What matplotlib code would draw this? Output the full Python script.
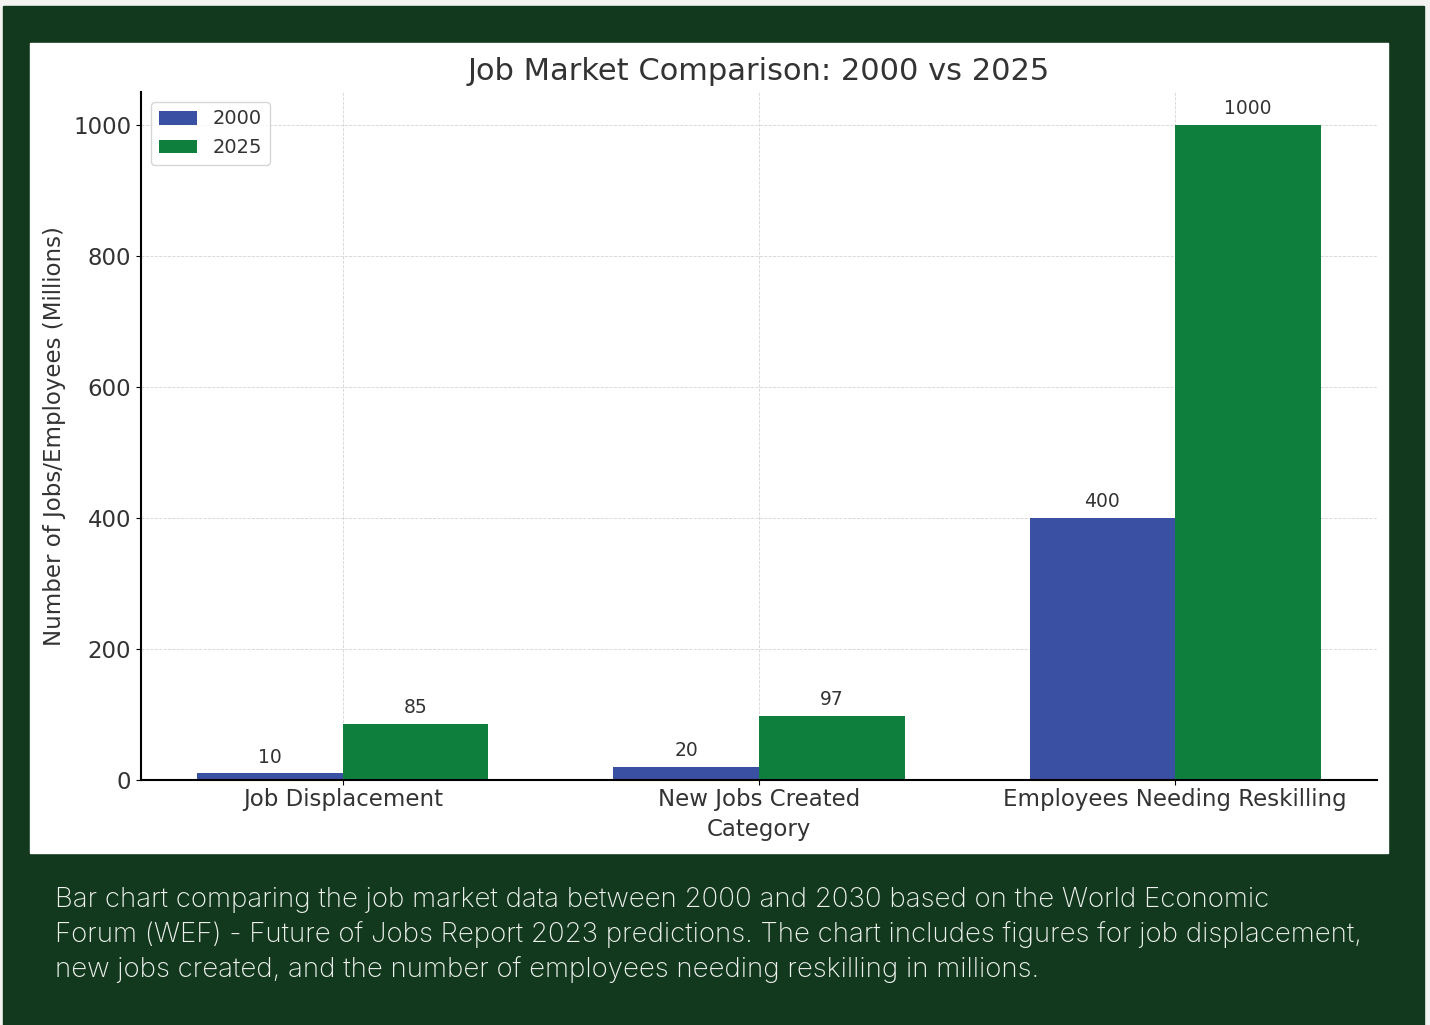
import matplotlib.pyplot as plt
import numpy as np
from matplotlib.patches import Rectangle

categories = ["Job Displacement", "New Jobs Created", "Employees Needing Reskilling"]
years = ["2000", "2025"]
values_2000 = [10, 20, 400]
values_2025 = [85, 97, 1000]

caption = ("Bar chart comparing the job market data between 2000 and 2030 based on the World Economic\n"
           "Forum (WEF) - Future of Jobs Report 2023 predictions. The chart includes figures for job displacement,\n"
           "new jobs created, and the number of employees needing reskilling in millions.")

W, H = 1430, 1025
fig = plt.figure(figsize=(W / 100, H / 100), dpi=100, facecolor="#f3f4f2")

# dark green frame and white chart panel (pixel boxes converted to figure coords)
def box(x0, y0, x1, y1, color):
    fig.patches.append(Rectangle((x0 / W, 1 - y1 / H), (x1 - x0) / W, (y1 - y0) / H,
                                 transform=fig.transFigure, color=color, zorder=-2))

box(3, 6, 1424, 1025, "#12391d")
box(30, 43, 1388, 853, "white")

ax = fig.add_axes([141 / W, 1 - 780 / H, (1377 - 141) / W, (780 - 92) / H])
ax.set_facecolor("white")

x = np.arange(len(categories))
w = 0.35
b1 = ax.bar(x - w / 2, values_2000, w, color="#3a50a2", label=years[0], zorder=2)
b2 = ax.bar(x + w / 2, values_2025, w, color="#0f7f3e", label=years[1], zorder=2)

for bars in (b1, b2):
    for r in bars:
        ax.annotate(f"{int(r.get_height())}", (r.get_x() + r.get_width() / 2, r.get_height()),
                    xytext=(0, 5), textcoords="offset points", ha="center", va="bottom",
                    fontsize=13.5, color="#333333")

ax.set_ylim(0, 1050)
ax.set_xticks(x)
ax.set_xticklabels(categories, fontsize=16.5, color="#333333")
ax.tick_params(axis="x", pad=2)
ax.tick_params(axis="y", labelsize=16.5, labelcolor="#333333")
ax.set_yticks([0, 200, 400, 600, 800, 1000])
ax.set_xlabel("Category", fontsize=16.5, color="#333333", labelpad=5)
ax.set_ylabel("Number of Jobs/Employees (Millions)", fontsize=16.5, color="#333333", labelpad=5)
ax.set_title("Job Market Comparison: 2000 vs 2025", fontsize=22, color="#333333", pad=9)
ax.grid(True, linestyle="--", linewidth=0.6, color="#d5d5d5", zorder=0)
ax.spines["top"].set_visible(False)
ax.spines["right"].set_visible(False)
ax.spines["left"].set_linewidth(1.5)
ax.spines["bottom"].set_linewidth(1.5)
ax.legend(loc="upper left", fontsize=14, labelcolor="#333333", borderpad=0.4,
          handlelength=2.0)

fig.text(55 / W, 1 - 887 / H, caption, fontsize=19.9, color="#eef1ee", family="Inter",
         fontweight="light", va="top", ha="left", linespacing=1.38)

fig.savefig("out.png", dpi=100, facecolor=fig.get_facecolor())
